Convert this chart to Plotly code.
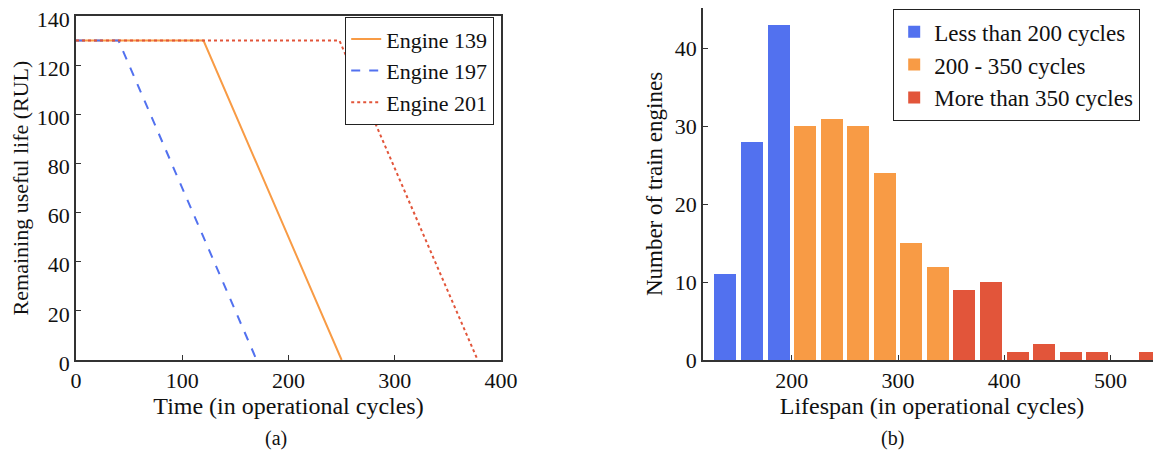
import plotly.graph_objects as go

# ---------------- data ----------------
# (a) RUL trajectories: piecewise linear, constant 130 then linear decay
eng139_time = [0, 120, 250]
eng139_rul = [130, 130, 0]
eng197_time = [0, 40, 170]
eng197_rul = [130, 130, 0]
eng201_time = [0, 248, 378]
eng201_rul = [130, 130, 0]

# (b) lifespan histogram (bin starts, width 25)
bin_starts = [125, 150, 175, 200, 225, 250, 275, 300, 325, 350, 375, 400, 425, 450, 475, 500, 525]
bin_counts = [11, 28, 43, 30, 31, 30, 24, 15, 12, 9, 10, 1, 2, 1, 1, 0, 1]
bin_width = 25
group_names = ["Less than 200 cycles", "200 - 350 cycles", "More than 350 cycles"]
group_bounds = [(0, 200), (200, 350), (350, 10000)]

BLUE = "#5271EF"
ORANGE = "#F89B45"
RED = "#E2553A"
AX = "#333333"
FONT = "Liberation Serif, Times New Roman, DejaVu Serif, serif"

fig = go.Figure()

# left panel lines
fig.add_trace(go.Scatter(x=eng139_time, y=eng139_rul, mode="lines", name="Engine 139",
                         line=dict(color=ORANGE, width=2, dash="solid"),
                         xaxis="x", yaxis="y", legend="legend"))
fig.add_trace(go.Scatter(x=eng197_time, y=eng197_rul, mode="lines", name="Engine 197",
                         line=dict(color=BLUE, width=2, dash="dash"),
                         xaxis="x", yaxis="y", legend="legend"))
fig.add_trace(go.Scatter(x=eng201_time, y=eng201_rul, mode="lines", name="Engine 201",
                         line=dict(color=RED, width=2, dash="dot"),
                         xaxis="x", yaxis="y", legend="legend"))

# right panel bars
colors = [BLUE, ORANGE, RED]
for name, (lo, hi), col in zip(group_names, group_bounds, colors):
    xs, ys = [], []
    for s, c in zip(bin_starts, bin_counts):
        if lo <= s < hi:
            xs.append(s + bin_width / 2)
            ys.append(c)
    fig.add_trace(go.Bar(x=xs, y=ys, name=name, marker=dict(color=col, line=dict(width=0)),
                         width=bin_width * 0.83, xaxis="x2", yaxis="y2", legend="legend2"))

# page body has an 8px margin: figure occupies window minus that offset
OFF = 8
W, H = 1161 - OFF, 463 - OFF
def px(x):
    return (x - OFF) / W
def py(y):
    return 1 - (y - OFF) / H

axis_common = dict(showline=True, linecolor=AX, linewidth=1.5, ticks="inside", ticklen=5,
                   tickcolor=AX, tickwidth=1, showgrid=False, zeroline=False, automargin=False,
                   ticklabeloverflow="allow",
                   tickfont=dict(family=FONT, size=22, color="#111"))

def ttl(text, size, standoff):
    return dict(text=text, standoff=standoff, font=dict(family=FONT, size=size, color="#111"))

fig.update_layout(
    width=W, height=H,
    margin=dict(l=0, r=0, t=0, b=0, autoexpand=False),
    paper_bgcolor="white", plot_bgcolor="white",
    bargap=0,
    xaxis=dict(domain=[px(76), px(501)], range=[0, 400], tickvals=[0, 100, 200, 300, 400],
               mirror=True, anchor="y",
               title=ttl("Time (in operational cycles)", 24, 2), **axis_common),
    yaxis=dict(domain=[py(360), py(16)], range=[0, 140], tickvals=[0, 20, 40, 60, 80, 100, 120, 140],
               mirror=True, anchor="x", ticklabelshift=3,
               title=ttl("Remaining useful life (RUL)", 22, 6), **axis_common),
    xaxis2=dict(domain=[px(703), 1.0], range=[116.4, 547.5], tickvals=[200, 300, 400, 500],
                mirror=True, anchor="y2",
                title=ttl("Lifespan (in operational cycles)", 24, 2), **axis_common),
    yaxis2=dict(domain=[py(360), py(8)], range=[0, 45.2], tickvals=[0, 10, 20, 30, 40],
                mirror=False, anchor="x2",
                title=ttl("Number of train engines", 23, 6), **axis_common),
    legend=dict(x=px(345), y=py(17), xanchor="left", yanchor="top",
                bgcolor="white", bordercolor="#222", borderwidth=1.2,
                font=dict(family=FONT, size=22, color="#111"),
                itemwidth=30, tracegroupgap=0),
    legend2=dict(x=px(893), y=py(9), xanchor="left", yanchor="top",
                 bgcolor="white", bordercolor="#222", borderwidth=1.2,
                 font=dict(family=FONT, size=23, color="#111"),
                 itemwidth=30, tracegroupgap=0),
    annotations=[
        dict(text="(a)", x=px(263), y=py(452), xref="paper", yref="paper",
             showarrow=False, font=dict(family=FONT, size=20, color="#111")),
        dict(text="(b)", x=px(906), y=py(452), xref="paper", yref="paper",
             showarrow=False, font=dict(family=FONT, size=20, color="#111")),
    ],
)

fig.write_html("out.html")
